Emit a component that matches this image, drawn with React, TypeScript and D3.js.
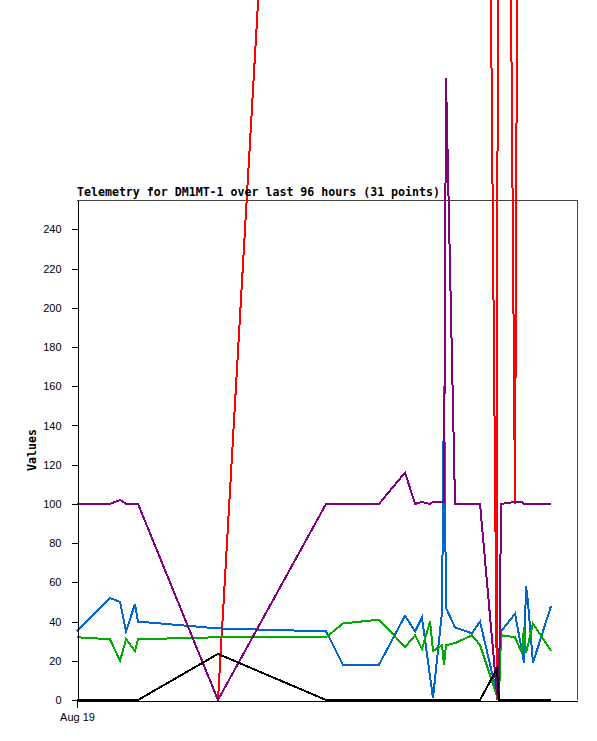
import React from "react";
import * as d3 from "d3";

// sample times (31 points over the last 96 hours)
const times = [
  "Aug 19 00:00", "Aug 19 06:20", "Aug 19 08:16", "Aug 19 09:25", "Aug 19 11:08",
  "Aug 19 11:43", "Aug 20 03:04", "Aug 20 23:49", "Aug 21 03:04", "Aug 21 09:59",
  "Aug 21 14:59", "Aug 21 16:54", "Aug 21 18:14", "Aug 21 19:47", "Aug 21 20:21",
  "Aug 21 22:05", "Aug 21 22:28", "Aug 21 22:51", "Aug 22 00:35", "Aug 22 03:50",
  "Aug 22 05:23", "Aug 22 08:38", "Aug 22 09:01", "Aug 22 09:25", "Aug 22 12:06",
  "Aug 22 13:26", "Aug 22 13:49", "Aug 22 14:13", "Aug 22 14:35", "Aug 22 15:33",
  "Aug 22 19:01",
];

const redValues: (number | null)[] = [
  null, null, null, null, null, null, 0, 960, 1000, 1000,
  1000, 1000, 1000, 1000, 1000, 1000, 1000, 1000, 1000, 1000,
  1000, 0, 1000, 1000, 100, 1000, 1000, 1000, 1000, 1000,
  1000,
];
const blueValues = [
  35, 52, 50, 35, 49, 40, 36.5, 35, 18, 18,
  43, 35, 42, 12, 1, 45, 160, 47, 37, 34,
  40, 3, 1, 35, 44, 25, 19, 58, 50, 19,
  48,
];
const greenValues = [
  32, 31, 20, 31, 25, 31, 32, 32, 39, 41,
  27, 33, 26, 40, 25, 28, 18, 28, 29, 33,
  28, 2, 1, 33, 32, 24, 37, 24, 28, 39,
  25,
];
const purpleValues = [
  100, 100, 102, 100, 100, 100, 0, 100, 100, 100,
  116, 100, 101, 100, 101, 101, 101, 317, 100, 100,
  100, 3, 0, 100, 101, 101, 100, 100, 100, 100,
  100,
];
const blackValues = [
  0, 0, 0, 0, 0, 0, 23.5, 0, 0, 0,
  0, 0, 0, 0, 0, 0, 0, 0, 0, 0,
  0, 16, 0, 0, 0, 0, 0, 0, 0, 0,
  0,
];

const yTicks = [0, 20, 40, 60, 80, 100, 120, 140, 160, 180, 200, 220, 240];
const xTickLabel = "Aug 19";
const title = "Telemetry for DM1MT-1 over last 96 hours (31 points)";

export default function App() {
  const ref = React.useRef<SVGSVGElement | null>(null);

  React.useEffect(() => {
    if (!ref.current) return;
    const svg = d3.select(ref.current);
    svg.selectAll("*").remove();
    const margin = { top: 200, left: 77, right: 20, bottom: 41 };
    const width = 597;
    const height = 741;
    const parse = d3.timeParse("%b %d %H:%M");
    const dates = times.map(t => parse(t)!);
    const start = parse("Aug 19 00:00")!;
    const end = parse("Aug 23 00:00")!;

    const x = d3.scaleTime().domain([start, end]).range([margin.left, width - margin.right]);
    const y = d3.scaleLinear().domain([0, 255]).range([height - margin.bottom, margin.top]);

    // frame top/right
    svg
      .append("path")
      .attr("d", `M${x.range()[0]},${y(255) + 0.5}H${x.range()[1] + 0.5}V${y(0)}`)
      .attr("fill", "none")
      .attr("stroke", "#444")
      .attr("stroke-width", 1)
      .attr("shape-rendering", "crispEdges");

    const series = [
      { values: redValues, color: "#ff0000" },
      { values: blueValues, color: "#0066cc" },
      { values: greenValues, color: "#00aa00" },
      { values: purpleValues, color: "#800080" },
      { values: blackValues, color: "#000000" },
    ];
    const line = d3
      .line<number | null>()
      .defined(d => d !== null)
      .x((_, i) => x(dates[i]))
      .y(d => y(d as number));
    series.forEach(s => {
      svg
        .append("path")
        .datum(s.values)
        .attr("fill", "none")
        .attr("stroke", s.color)
        .attr("stroke-width", 2)
        .attr("stroke-linejoin", "miter")
        .attr("shape-rendering", "crispEdges")
        .attr("d", line);
    });

    const yAxis = svg
      .append("g")
      .attr("transform", `translate(${margin.left + 0.5},0)`)
      .call(d3.axisLeft(y).tickValues(yTicks).tickSize(6).tickSizeOuter(0).tickPadding(10));
    const xAxis = svg
      .append("g")
      .attr("transform", `translate(0,${y(0) + 0.5})`)
      .call(
        d3
          .axisBottom(x)
          .tickValues([start])
          .tickFormat(() => xTickLabel)
          .tickSize(7)
          .tickSizeOuter(0)
          .tickPadding(6)
      );
    [yAxis, xAxis].forEach(g => {
      g.attr("font-family", "'Liberation Sans', Arial, sans-serif").attr("font-size", 11);
      g.selectAll("path,line").attr("stroke", "#000").attr("shape-rendering", "crispEdges");
      g.selectAll("text").attr("fill", "#000");
    });

    svg
      .append("text")
      .attr("x", margin.left)
      .attr("y", 196)
      .attr("font-family", "'DejaVu Sans Mono', monospace")
      .attr("font-weight", "bold")
      .attr("font-size", 11.6)
      .text(title);

    svg
      .append("text")
      .attr("transform", `translate(36,${(y(0) + y(255)) / 2}) rotate(-90)`)
      .attr("text-anchor", "middle")
      .attr("font-family", "'DejaVu Sans Mono', monospace")
      .attr("font-weight", "bold")
      .attr("font-size", 11.6)
      .text("Values");
  }, []);

  return (
    <svg
      ref={ref}
      width={597}
      height={741}
      style={{ position: "absolute", left: 0, top: 0, background: "#fff" }}
    ></svg>
  );
}
